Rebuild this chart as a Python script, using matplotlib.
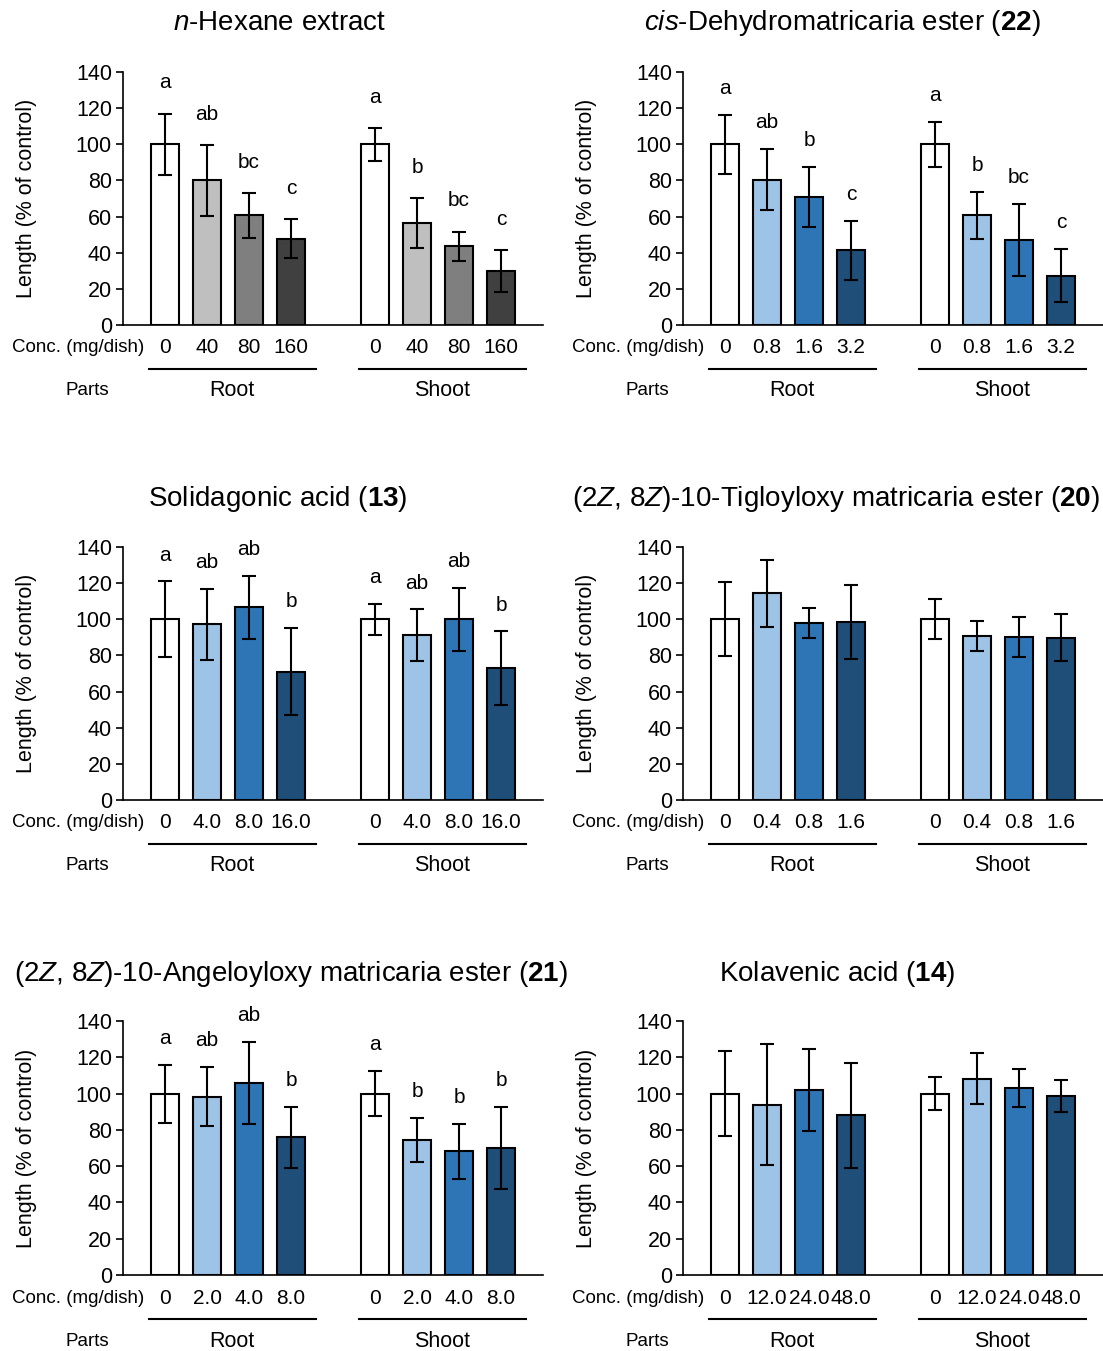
import matplotlib.pyplot as plt
import numpy as np

plt.rcParams['font.family'] = ['Liberation Sans', 'DejaVu Sans']
plt.rcParams['mathtext.fontset'] = 'custom'
plt.rcParams['mathtext.rm'] = 'Liberation Sans'
plt.rcParams['mathtext.it'] = 'Liberation Sans:italic'
plt.rcParams['mathtext.bf'] = 'Liberation Sans:bold'

# panel titles
titles = [
    r'$\mathit{n}$-Hexane extract',
    r'$\mathit{cis}$-Dehydromatricaria ester ($\mathbf{22}$)',
    r'Solidagonic acid ($\mathbf{13}$)',
    r'(2$\mathit{Z}$, 8$\mathit{Z}$)-10-Tigloyloxy matricaria ester ($\mathbf{20}$)',
    r'(2$\mathit{Z}$, 8$\mathit{Z}$)-10-Angeloyloxy matricaria ester ($\mathbf{21}$)',
    r'Kolavenic acid ($\mathbf{14}$)',
]

# concentrations (mg/dish)
conc = [
    ['0', '40', '80', '160'],
    ['0', '0.8', '1.6', '3.2'],
    ['0', '4.0', '8.0', '16.0'],
    ['0', '0.4', '0.8', '1.6'],
    ['0', '2.0', '4.0', '8.0'],
    ['0', '12.0', '24.0', '48.0'],
]

# root length (% of control) and error
root_mean = [
    [100, 80.0, 60.7, 47.7],
    [100, 80.5, 70.9, 41.3],
    [100, 97.2, 106.6, 71.1],
    [100, 114.3, 98.0, 98.7],
    [100, 98.3, 105.7, 75.9],
    [100, 93.9, 101.7, 88.0],
]
root_err = [
    [17.0, 19.5, 12.3, 10.7],
    [16.2, 16.8, 16.8, 16.2],
    [21.0, 19.7, 17.3, 24.0],
    [20.5, 18.6, 8.5, 20.5],
    [16.0, 16.3, 22.6, 16.7],
    [23.2, 33.3, 22.6, 29.0],
]

# shoot length (% of control) and error
shoot_mean = [
    [100, 56.5, 43.6, 30.0],
    [100, 60.6, 47.0, 27.3],
    [100, 91.3, 100.0, 72.8],
    [100, 90.8, 90.2, 89.8],
    [100, 74.4, 68.1, 70.0],
    [100, 108.3, 103.0, 98.7],
]
shoot_err = [
    [9.0, 13.7, 8.0, 11.6],
    [12.5, 13.2, 20.0, 14.8],
    [8.7, 14.2, 17.5, 20.5],
    [11.0, 8.4, 11.0, 13.0],
    [12.4, 12.3, 15.0, 22.8],
    [9.2, 14.3, 10.3, 8.7],
]

# significance letters
root_letters = [
    ['a', 'ab', 'bc', 'c'],
    ['a', 'ab', 'b', 'c'],
    ['a', 'ab', 'ab', 'b'],
    None,
    ['a', 'ab', 'ab', 'b'],
    None,
]
shoot_letters = [
    ['a', 'b', 'bc', 'c'],
    ['a', 'b', 'bc', 'c'],
    ['a', 'ab', 'ab', 'b'],
    None,
    ['a', 'b', 'b', 'b'],
    None,
]

gray = ['#FFFFFF', '#BFBFBF', '#7F7F7F', '#404040']
blue = ['#FFFFFF', '#9DC3E6', '#2E75B6', '#1F4E79']

W, H = 1103, 1351
fig = plt.figure(figsize=(W / 100, H / 100), dpi=100)

col_x = [123, 683]
row_y = [(72, 325), (547, 800), (1021, 1275)]
title_x = [280, 842, 278, 836, 291, 837]
title_y = [23, 499, 974]

root_x = np.arange(4)
shoot_x = np.arange(4) + 5

for i in range(6):
    r, c = divmod(i, 2)
    top, bot = row_y[r]
    ax = fig.add_axes([col_x[c] / W, 1 - bot / H, 420 / W, (bot - top) / H])
    colors = gray if i == 0 else blue
    pad = 14 if i == 0 else 11.5

    for xs, means, errs, letters in [(root_x, root_mean[i], root_err[i], root_letters[i]),
                                      (shoot_x, shoot_mean[i], shoot_err[i], shoot_letters[i])]:
        ax.bar(xs, means, width=0.67, color=colors, edgecolor='black', linewidth=1.5, zorder=2)
        ax.errorbar(xs, means, yerr=errs, fmt='none', ecolor='black', elinewidth=1.5,
                    capsize=5, capthick=1.5, zorder=3)
        if letters:
            for x, m, e, lab in zip(xs, means, errs, letters):
                ax.text(x, m + e + pad, lab, ha='center', va='baseline', fontsize=15)
        # concentration labels
        for x, lab in zip(xs, conc[i]):
            ax.text(x, -12.7, lab, ha='center', va='center', fontsize=15, clip_on=False)
        ax.plot([xs[0] - 0.38, xs[-1] + 0.6], [-24.4, -24.4], color='black', lw=1.5,
                clip_on=False)
    ax.text(1.6, -36.5, 'Root', ha='center', va='center', fontsize=15.5, clip_on=False)
    ax.text(6.6, -36.5, 'Shoot', ha='center', va='center', fontsize=15.5, clip_on=False)
    ax.text(-0.5, -12.7, 'Conc. (mg/dish)', ha='right', va='center', fontsize=13.5, clip_on=False)
    ax.text(-1.86, -36.5, 'Parts', ha='center', va='center', fontsize=13.5, clip_on=False)

    ax.set_xlim(-1, 9)
    ax.set_ylim(0, 140)
    ax.set_yticks(np.arange(0, 141, 20))
    ax.set_xticks([])
    ax.tick_params(axis='y', labelsize=15.5, length=5, width=1.2, direction='out', pad=3)
    ax.set_ylabel('Length (% of control)', fontsize=15.5)
    ax.yaxis.set_label_coords(-0.205, 0.5)
    for s in ['top', 'right']:
        ax.spines[s].set_visible(False)
    for s in ['left', 'bottom']:
        ax.spines[s].set_linewidth(1.2)

    fig.text(title_x[i] / W, 1 - title_y[r] / H, titles[i], ha='center', va='center', fontsize=20)

fig.savefig('out.png', dpi=100)
